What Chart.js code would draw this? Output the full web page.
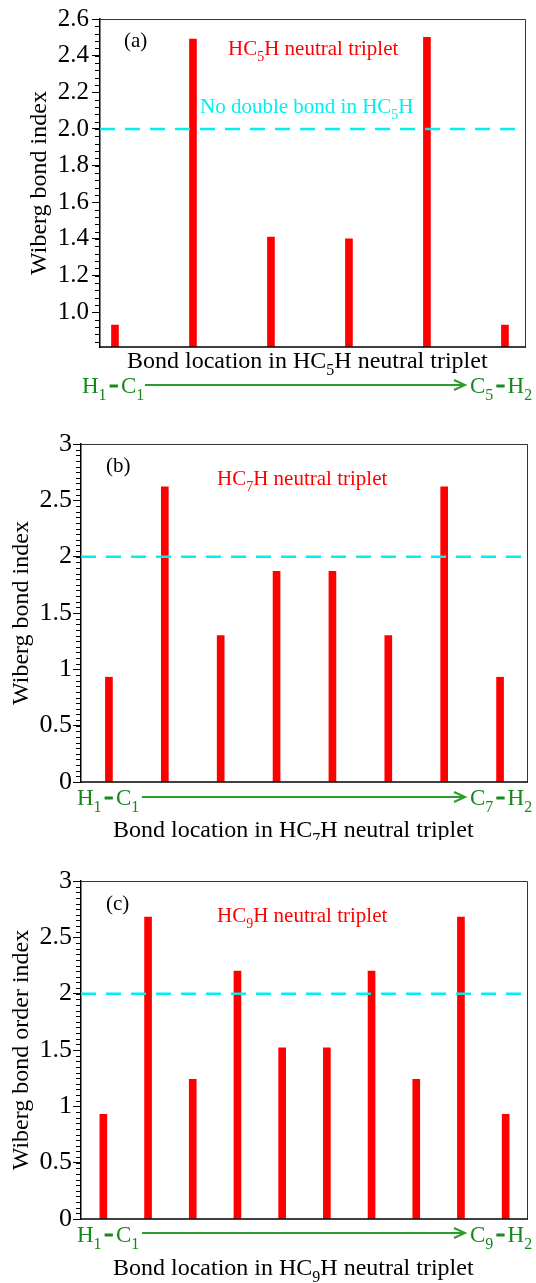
<!DOCTYPE html>
<html>
<head>
<meta charset="utf-8">
<script src="https://cdn.jsdelivr.net/npm/chart.js@4.4.0/dist/chart.umd.min.js"></script>
<style>
  body { margin: 0; background: #fff; }
  .panel { position: absolute; left: 0; }
</style>
</head>
<body>
<div class="panel" style="top:0px"><canvas id="chartA" width="536" height="420"></canvas></div>
<div class="panel" style="top:420px"><canvas id="chartB" width="536" height="420"></canvas></div>
<div class="panel" style="top:840px"><canvas id="chartC" width="536" height="443"></canvas></div>
<script>
// bond positions along the chain (H1-C1 ... Cn-H2)
const bondsA = [1, 2, 3, 4, 5, 6];
const bondsB = [1, 2, 3, 4, 5, 6, 7, 8];
const bondsC = [1, 2, 3, 4, 5, 6, 7, 8, 9, 10];

// Wiberg bond index values
const wbiA = [0.93, 2.49, 1.41, 1.40, 2.50, 0.93];
const wbiB = [0.93, 2.62, 1.30, 1.87, 1.87, 1.30, 2.62, 0.93];
const wbiC = [0.93, 2.68, 1.24, 2.20, 1.52, 1.52, 2.20, 1.24, 2.68, 0.93];

const doubleBond = 2.0;

const FONT = '"Liberation Serif", "Times New Roman", serif';
const RED = '#ff0000';
const CYAN = '#00f0f0';
const GREEN_TXT = '#15891a';
const GREEN_LINE = '#2a9d2a';

// draws text with subscripts: parts are strings, {sub:'5'} or {dash:true}
function richText(ctx, parts, x, y, size, color) {
  let cx = x;
  ctx.fillStyle = color;
  ctx.textAlign = 'left';
  ctx.textBaseline = 'alphabetic';
  parts.forEach(p => {
    if (typeof p === 'string') {
      ctx.font = size + 'px ' + FONT;
      ctx.fillText(p, cx, y);
      cx += ctx.measureText(p).width;
    } else if (p.sub) {
      const s = Math.round(size * 0.68);
      ctx.font = s + 'px ' + FONT;
      ctx.fillText(p.sub, cx, y + size * 0.3);
      cx += ctx.measureText(p.sub).width;
    } else if (p.dash) {
      cx += 3;
      ctx.fillRect(cx, y - size * 0.37, size * 0.36, 3);
      cx += size * 0.36 + 3;
    }
  });
  return cx - x;
}

function makePanel(id, opts) {
  const canvas = document.getElementById(id);
  const H = canvas.height;
  const area = opts.area; // [left, top, right, bottom]

  const bars = opts.bonds.map((b, i) => ({ x: b, y: opts.values[i] }));

  const decor = {
    id: 'decor_' + id,
    afterDraw(chart) {
      const ctx = chart.ctx;
      const ca = chart.chartArea;
      const ys = chart.scales.y;
      ctx.save();

      // frame
      ctx.strokeStyle = '#333';
      ctx.lineWidth = 1;
      ctx.beginPath();
      ctx.moveTo(ca.left, ca.top + 0.5);
      ctx.lineTo(ca.right - 0.5, ca.top + 0.5);
      ctx.lineTo(ca.right - 0.5, ca.bottom);
      ctx.stroke();
      ctx.strokeStyle = '#000';
      ctx.lineWidth = 1.5;
      ctx.beginPath();
      ctx.moveTo(ca.left - 0.75, ca.bottom);
      ctx.lineTo(ca.right, ca.bottom);
      ctx.stroke();

      // minor ticks
      ctx.strokeStyle = '#000';
      ctx.lineWidth = 1;
      const nMinor = Math.round((opts.yMax - opts.minorStart) / opts.minorStep);
      for (let k = 0; k <= nMinor; k++) {
        const v = opts.minorStart + k * opts.minorStep;
        const py = Math.round(ys.getPixelForValue(v)) + 0.5;
        if (py < ca.top - 1 || py > ca.bottom + 1) continue;
        ctx.beginPath();
        ctx.moveTo(ca.left - 5, py);
        ctx.lineTo(ca.left, py);
        ctx.stroke();
      }

      // panel letter
      ctx.font = opts.letterSize + 'px ' + FONT;
      ctx.fillStyle = '#000';
      ctx.fillText(opts.letter, opts.letterPos[0], opts.letterPos[1]);

      // series label
      richText(ctx, opts.label, opts.labelPos[0], opts.labelPos[1], opts.labelSize, RED);
      if (opts.note) {
        richText(ctx, opts.note, opts.notePos[0], opts.notePos[1], opts.labelSize, CYAN);
      }

      // x title
      richText(ctx, opts.xTitle, opts.xTitlePos[0], opts.xTitlePos[1], 24, '#000');

      // green bond-direction arrow
      const g = opts.arrow;
      richText(ctx, g.from, g.fromX, g.textY, 23, GREEN_TXT);
      richText(ctx, g.to, g.toX, g.textY, 23, GREEN_TXT);
      ctx.strokeStyle = GREEN_LINE;
      ctx.lineWidth = 2;
      ctx.beginPath();
      ctx.moveTo(g.x1, g.lineY);
      ctx.lineTo(g.x2, g.lineY);
      ctx.moveTo(g.x2 - 11, g.lineY - 5);
      ctx.lineTo(g.x2, g.lineY);
      ctx.lineTo(g.x2 - 11, g.lineY + 5);
      ctx.stroke();

      // y title
      ctx.translate(opts.yTitleX, (ca.top + ca.bottom) / 2);
      ctx.rotate(-Math.PI / 2);
      ctx.font = '24px ' + FONT;
      ctx.fillStyle = '#000';
      ctx.textAlign = 'center';
      ctx.textBaseline = 'middle';
      ctx.fillText(opts.yTitle, 0, 0);
      ctx.restore();
    }
  };

  return new Chart(canvas, {
    type: 'bar',
    data: {
      datasets: [
        {
          type: 'line',
          data: [{ x: opts.xMin, y: doubleBond }, { x: opts.xMax, y: doubleBond }],
          borderColor: CYAN,
          borderWidth: 2.5,
          borderDash: [15, 10],
          pointRadius: 0,
          fill: false
        },
        {
          data: bars,
          backgroundColor: RED,
          borderWidth: 0,
          barThickness: 7
        }
      ]
    },
    options: {
      responsive: false,
      animation: false,
      devicePixelRatio: 1,
      layout: {
        padding: { left: 0, top: area[1], right: 536 - area[2], bottom: H - area[3] }
      },
      plugins: { legend: { display: false }, tooltip: { enabled: false } },
      scales: {
        x: {
          type: 'linear',
          display: false,
          offset: false,
          min: opts.xMin,
          max: opts.xMax
        },
        y: {
          min: opts.yMin,
          max: opts.yMax,
          afterFit: (scale) => { scale.width = area[0]; },
          border: { display: true, color: '#000', width: 1.5 },
          grid: { drawOnChartArea: false, drawTicks: true, tickLength: 8, tickColor: '#000', tickWidth: 1 },
          ticks: {
            stepSize: opts.yStep,
            includeBounds: false,
            padding: opts.tickPad,
            color: '#000',
            font: { family: FONT, size: opts.tickSize },
            callback: opts.tickFmt
          }
        }
      }
    },
    plugins: [decor]
  });
}

makePanel('chartA', {
  area: [100, 19, 526, 347],
  bonds: bondsA, values: wbiA,
  xMin: 0.808, xMax: 6.27,
  yMin: 0.81, yMax: 2.6, yStep: 0.2,
  minorStart: 0.84, minorStep: 0.04,
  tickSize: 25, tickPad: 3,
  tickFmt: (v) => v.toFixed(1),
  letter: '(a)', letterPos: [124, 47], letterSize: 21,
  label: ['HC', { sub: '5' }, 'H neutral triplet'], labelPos: [228, 55], labelSize: 21,
  note: ['No double bond in HC', { sub: '5' }, 'H'], notePos: [200, 113],
  xTitle: ['Bond location in HC', { sub: '5' }, 'H neutral triplet'], xTitlePos: [127, 368],
  yTitle: 'Wiberg bond index', yTitleX: 40,
  arrow: {
    from: ['H', { sub: '1' }, { dash: true }, 'C', { sub: '1' }], fromX: 82,
    to: ['C', { sub: '5' }, { dash: true }, 'H', { sub: '2' }], toX: 470,
    textY: 393, lineY: 385, x1: 145, x2: 465
  }
});

makePanel('chartB', {
  area: [81, 24, 528, 362],
  bonds: bondsB, values: wbiB,
  xMin: 0.5, xMax: 8.5,
  yMin: 0, yMax: 3, yStep: 0.5,
  minorStart: 0, minorStep: 0.05,
  tickSize: 26, tickPad: 1,
  tickFmt: (v) => String(Math.round(v * 10) / 10),
  letter: '(b)', letterPos: [106, 52], letterSize: 21,
  label: ['HC', { sub: '7' }, 'H neutral triplet'], labelPos: [217, 65], labelSize: 21,
  xTitle: ['Bond location in HC', { sub: '7' }, 'H neutral triplet'], xTitlePos: [113, 417],
  yTitle: 'Wiberg bond index', yTitleX: 22,
  arrow: {
    from: ['H', { sub: '1' }, { dash: true }, 'C', { sub: '1' }], fromX: 77,
    to: ['C', { sub: '7' }, { dash: true }, 'H', { sub: '2' }], toX: 470,
    textY: 385, lineY: 377, x1: 142, x2: 465
  }
});

makePanel('chartC', {
  area: [81, 41, 528, 379],
  bonds: bondsC, values: wbiC,
  xMin: 0.5, xMax: 10.5,
  yMin: 0, yMax: 3, yStep: 0.5,
  minorStart: 0, minorStep: 0.05,
  tickSize: 26, tickPad: 1,
  tickFmt: (v) => String(Math.round(v * 10) / 10),
  letter: '(c)', letterPos: [106, 70], letterSize: 21,
  label: ['HC', { sub: '9' }, 'H neutral triplet'], labelPos: [217, 82], labelSize: 21,
  xTitle: ['Bond location in HC', { sub: '9' }, 'H neutral triplet'], xTitlePos: [113, 435],
  yTitle: 'Wiberg bond order index', yTitleX: 22,
  arrow: {
    from: ['H', { sub: '1' }, { dash: true }, 'C', { sub: '1' }], fromX: 77,
    to: ['C', { sub: '9' }, { dash: true }, 'H', { sub: '2' }], toX: 470,
    textY: 402, lineY: 393, x1: 142, x2: 465
  }
});
</script>
</body>
</html>
